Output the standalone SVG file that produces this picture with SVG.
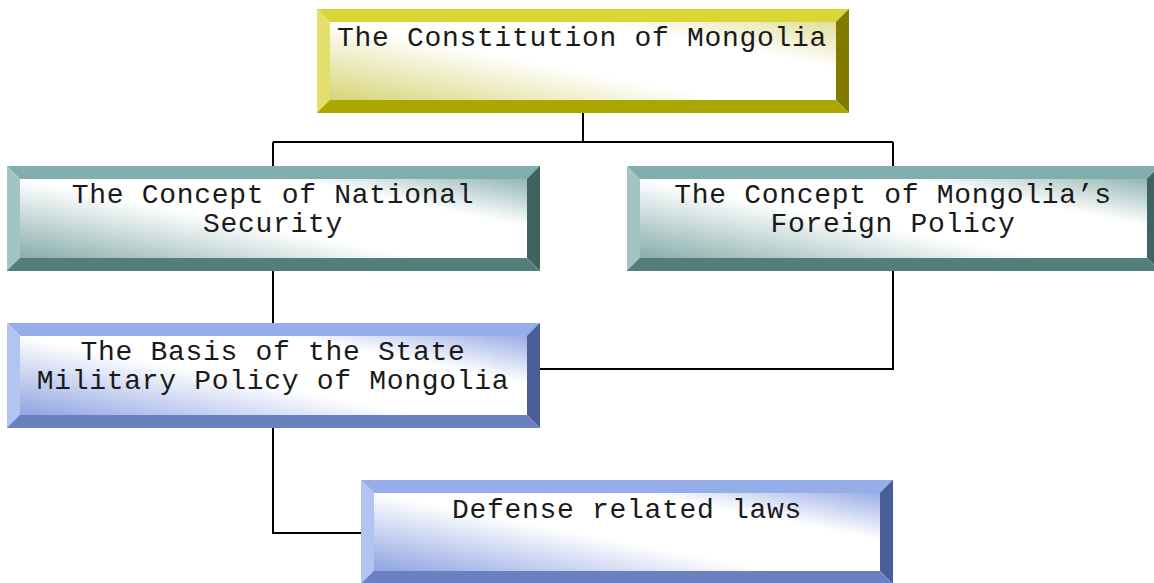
<svg xmlns="http://www.w3.org/2000/svg" width="1154" height="583" viewBox="0 0 1154 583">
<defs>
<linearGradient id="gy" x1="0" y1="1" x2="1" y2="0">
<stop offset="0" stop-color="#cfcc5c"/><stop offset="0.45" stop-color="#ffffff"/><stop offset="0.7" stop-color="#ffffff"/><stop offset="1" stop-color="#d6d478"/>
</linearGradient>
<linearGradient id="gt" x1="0" y1="1" x2="1" y2="0">
<stop offset="0" stop-color="#6f9d9a"/><stop offset="0.45" stop-color="#ffffff"/><stop offset="0.7" stop-color="#ffffff"/><stop offset="1" stop-color="#6f9d9a"/>
</linearGradient>
<linearGradient id="gb" x1="0" y1="1" x2="1" y2="0">
<stop offset="0" stop-color="#7891dc"/><stop offset="0.45" stop-color="#ffffff"/><stop offset="0.7" stop-color="#ffffff"/><stop offset="1" stop-color="#7891dc"/>
</linearGradient>
</defs>
<style>
text{font-family:"Liberation Mono","Courier New",monospace;font-size:28px;fill:#1a1a1a;letter-spacing:0.7px}
.c{text-anchor:middle}
.conn{fill:none;stroke:#000;stroke-width:2}
.yt{fill:#d9d635}.yl{fill:#e2df6c}.yr{fill:#807b00}.yb{fill:#aaa700}
.tt{fill:#80aeac}.tl{fill:#a2c5c3}.tr{fill:#3f6361}.tb{fill:#537e7b}
.bt{fill:#95aeea}.bl{fill:#b2c5f2}.br{fill:#4a5e96}.bb{fill:#6a80c0}
</style>
<g id="connectors">
<path class="conn" d="M583 113V142M273 142H893M273 142V166M893 142V166"/>
<path class="conn" d="M273 271V323"/>
<path class="conn" d="M893 271V369H540"/>
<path class="conn" d="M273 428V533H361"/>
</g>
<g id="n1">
<rect x="317" y="9" width="532" height="104" fill="url(#gy)"/>
<polygon class="yt" points="317,9 849,9 836,22 330,22"/>
<polygon class="yl" points="317,9 330,22 330,100 317,113"/>
<polygon class="yr" points="849,9 849,113 836,100 836,22"/>
<polygon class="yb" points="317,113 849,113 836,100 330,100"/>
<text x="337" y="46">The Constitution of Mongolia</text>
</g>
<g id="n2">
<rect x="7" y="166" width="533" height="105" fill="url(#gt)"/>
<polygon class="tt" points="7,166 540,166 527,179 20,179"/>
<polygon class="tl" points="7,166 20,179 20,258 7,271"/>
<polygon class="tr" points="540,166 540,271 527,258 527,179"/>
<polygon class="tb" points="7,271 540,271 527,258 20,258"/>
<text class="c" x="273" y="203">The Concept of National</text>
<text class="c" x="273" y="232">Security</text>
</g>
<g id="n3">
<rect x="627" y="166" width="533" height="105" fill="url(#gt)"/>
<polygon class="tt" points="627,166 1160,166 1147,179 640,179"/>
<polygon class="tl" points="627,166 640,179 640,258 627,271"/>
<polygon class="tr" points="1160,166 1160,271 1147,258 1147,179"/>
<polygon class="tb" points="627,271 1160,271 1147,258 640,258"/>
<text class="c" x="893" y="203">The Concept of Mongolia’s</text>
<text class="c" x="893" y="232">Foreign Policy</text>
</g>
<g id="n4">
<rect x="7" y="323" width="533" height="105" fill="url(#gb)"/>
<polygon class="bt" points="7,323 540,323 527,336 20,336"/>
<polygon class="bl" points="7,323 20,336 20,415 7,428"/>
<polygon class="br" points="540,323 540,428 527,415 527,336"/>
<polygon class="bb" points="7,428 540,428 527,415 20,415"/>
<text class="c" x="273" y="360">The Basis of the State</text>
<text class="c" x="273" y="389">Military Policy of Mongolia</text>
</g>
<g id="n5">
<rect x="361" y="480" width="532" height="104" fill="url(#gb)"/>
<polygon class="bt" points="361,480 893,480 880,493 374,493"/>
<polygon class="bl" points="361,480 374,493 374,571 361,584"/>
<polygon class="br" points="893,480 893,584 880,571 880,493"/>
<polygon class="bb" points="361,584 893,584 880,571 374,571"/>
<text class="c" x="627" y="518">Defense related laws</text>
</g>
</svg>
